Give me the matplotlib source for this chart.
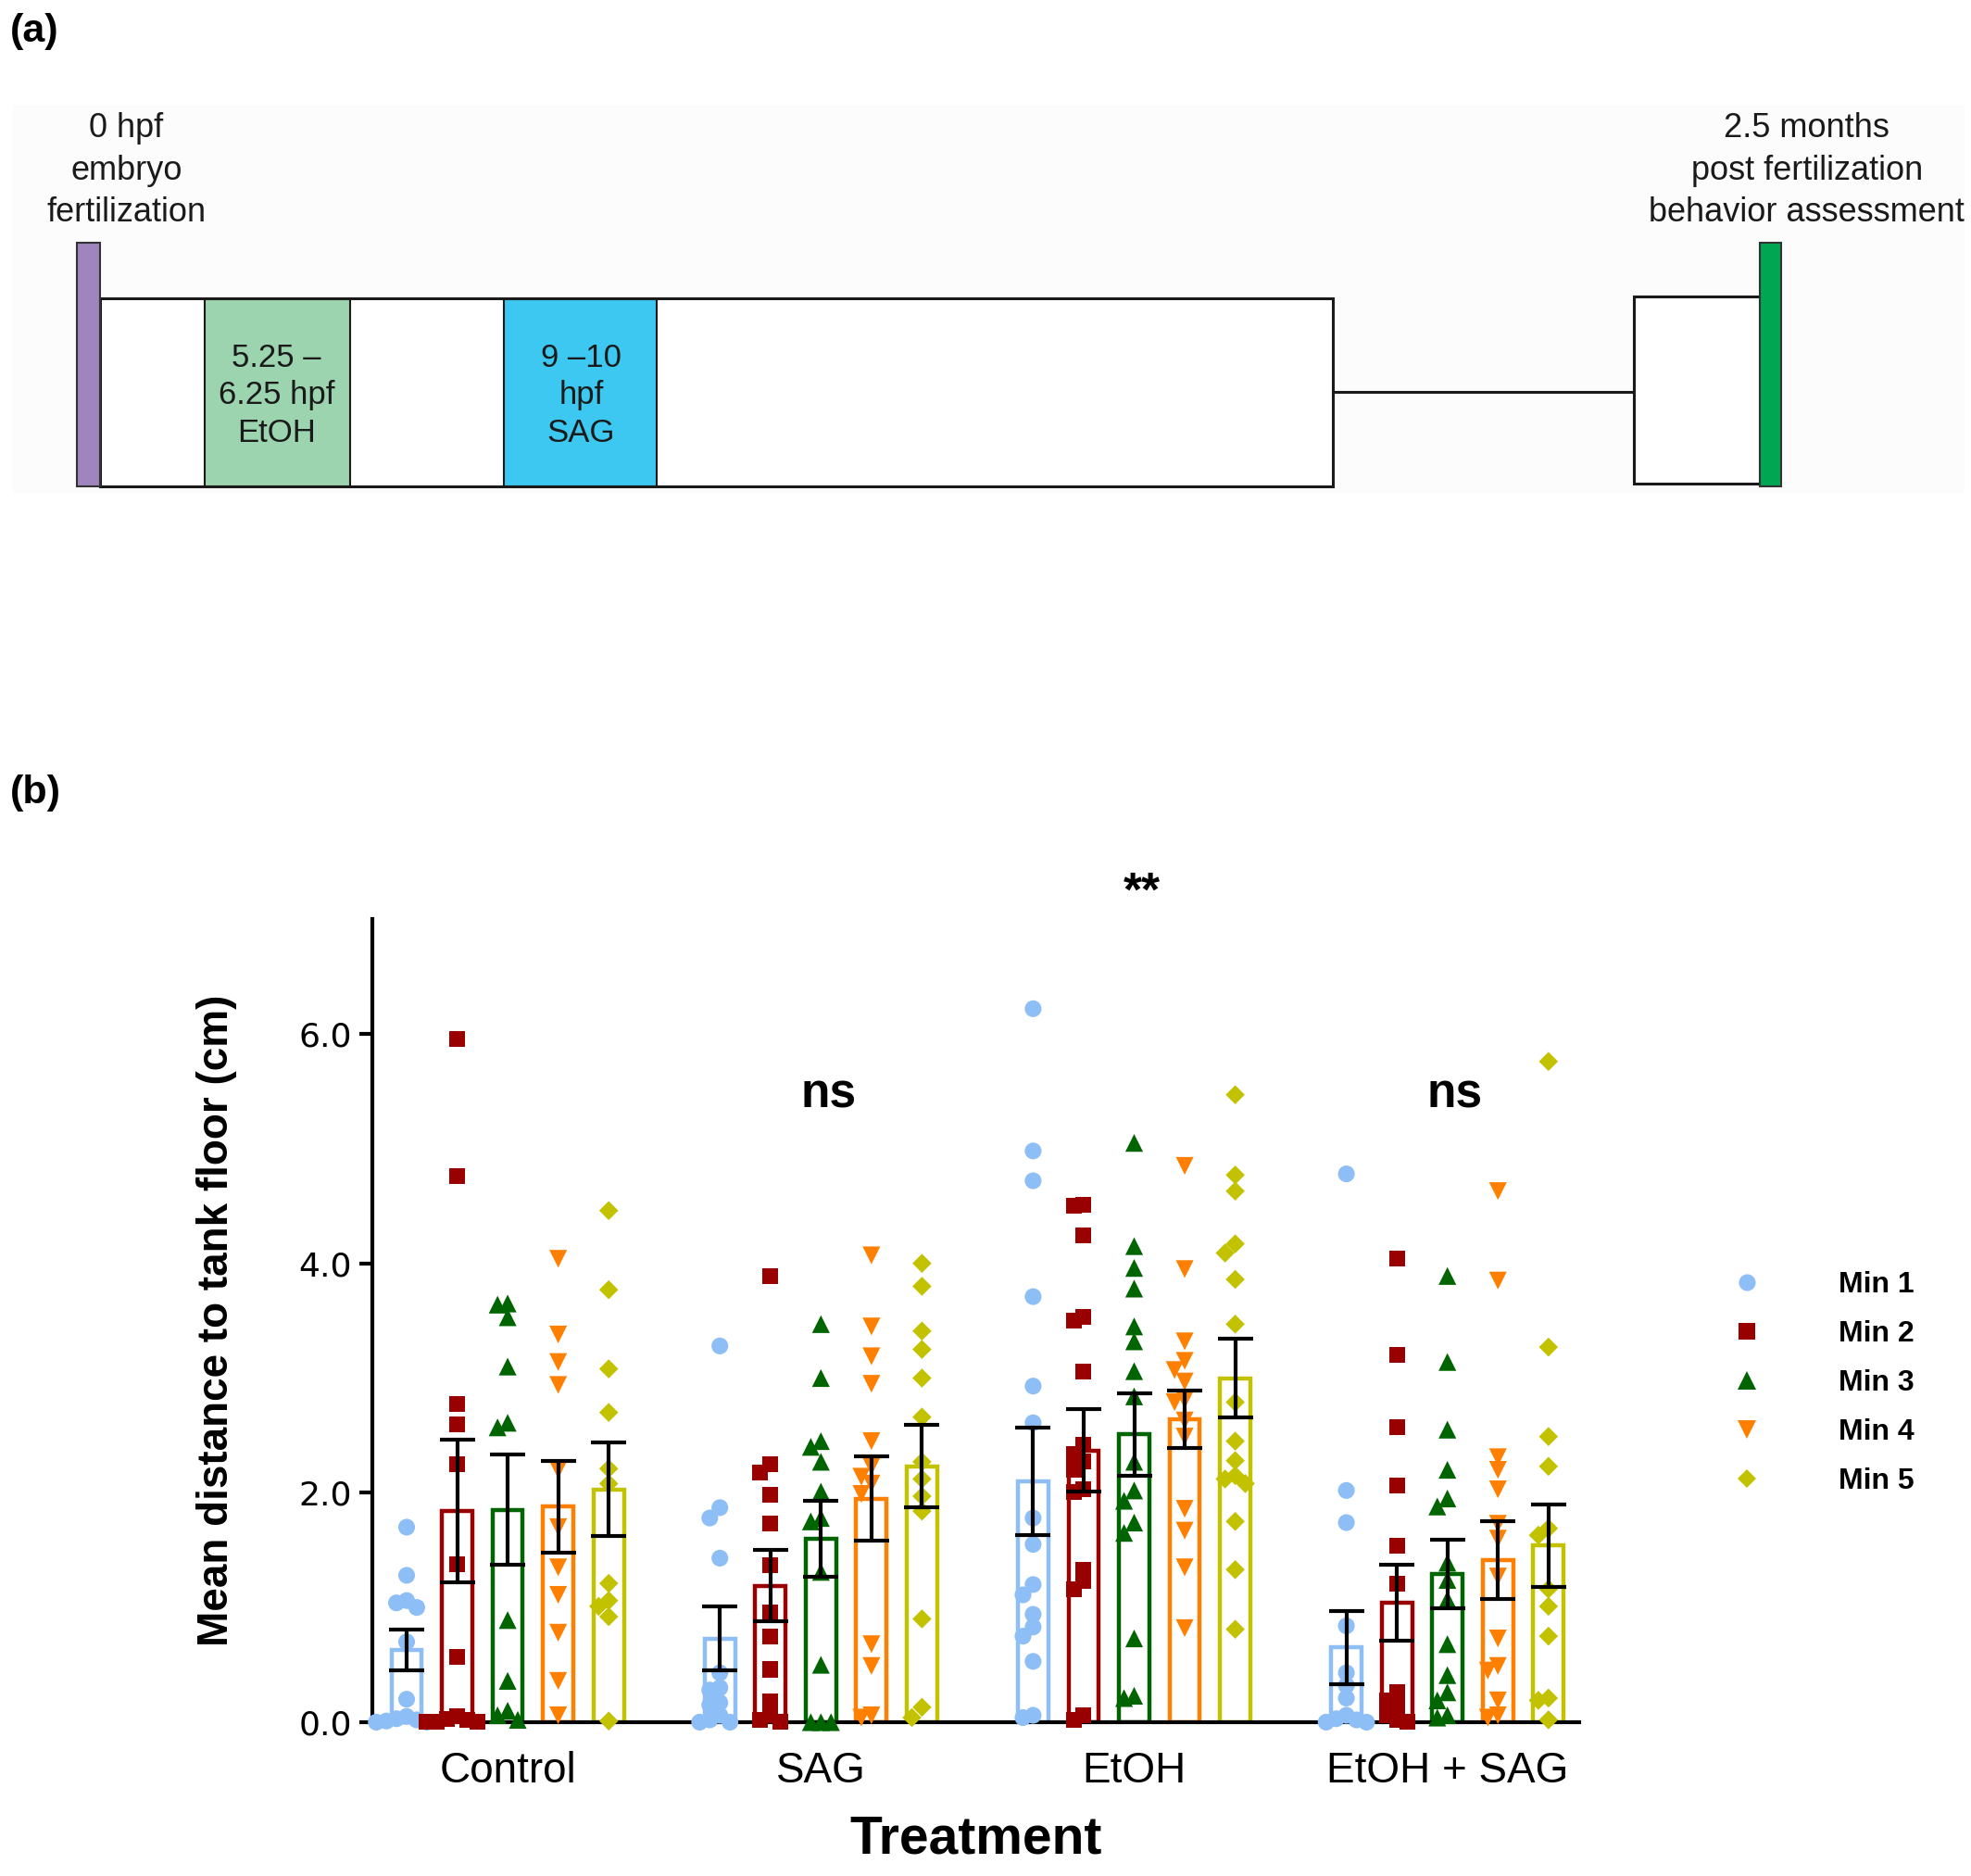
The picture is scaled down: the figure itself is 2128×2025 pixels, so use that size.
import numpy as np
import matplotlib as mpl
mpl.use('Agg')
import matplotlib.pyplot as plt
from matplotlib.patches import Rectangle
from matplotlib.lines import Line2D

# ---- panel (b) data ----
groups = ["Control", "SAG", "EtOH", "EtOH + SAG"]
minutes = ["Min 1", "Min 2", "Min 3", "Min 4", "Min 5"]

ctrl_means = [0.63, 1.84, 1.85, 1.88, 2.03]
ctrl_sem = [0.18, 0.62, 0.48, 0.40, 0.41]
sag_means = [0.73, 1.19, 1.60, 1.95, 2.23]
sag_sem = [0.28, 0.31, 0.33, 0.37, 0.36]
etoh_means = [2.10, 2.37, 2.51, 2.64, 3.00]
etoh_sem = [0.47, 0.36, 0.36, 0.25, 0.34]
combo_means = [0.65, 1.04, 1.29, 1.41, 1.54]
combo_sem = [0.32, 0.33, 0.30, 0.34, 0.36]

ctrl_pts = [
    [1.70, 1.28, 1.06, 1.04, 1.00, 0.70, 0.20, 0.05, 0.03, 0.02, 0.01, 0.0, 0.0],
    [5.96, 4.76, 2.77, 2.60, 2.25, 1.38, 0.57, 0.05, 0.03, 0.02, 0.0, 0.0, 0.0],
    [3.65, 3.64, 3.53, 3.10, 2.61, 2.57, 0.89, 0.36, 0.10, 0.06, 0.02],
    [4.04, 3.38, 3.14, 2.94, 2.20, 1.70, 1.35, 1.11, 0.78, 0.36, 0.06],
    [4.46, 3.77, 3.08, 2.70, 2.21, 2.08, 1.21, 1.06, 1.01, 0.92, 0.01],
]
sag_pts = [
    [3.28, 1.87, 1.78, 1.43, 0.43, 0.30, 0.28, 0.17, 0.15, 0.06, 0.02, 0.0, 0.0],
    [3.89, 2.25, 2.18, 1.98, 1.73, 1.37, 0.96, 0.75, 0.46, 0.18, 0.06, 0.02, 0.0],
    [3.47, 3.00, 2.45, 2.40, 2.27, 2.01, 1.78, 1.75, 1.31, 0.50, 0.0, 0.0, 0.0],
    [4.07, 3.45, 3.19, 2.95, 2.45, 2.23, 2.14, 2.08, 1.99, 0.68, 0.49, 0.06, 0.04],
    [4.00, 3.80, 3.41, 3.25, 3.00, 2.66, 2.27, 2.12, 1.97, 1.84, 0.90, 0.13, 0.04],
]
etoh_pts = [
    [6.22, 4.98, 4.72, 3.71, 2.93, 2.61, 1.78, 1.55, 1.20, 1.11, 0.94, 0.83, 0.75, 0.53, 0.06, 0.04],
    [4.51, 4.50, 4.24, 3.53, 3.50, 3.06, 2.42, 2.34, 2.27, 2.20, 2.03, 2.01, 1.33, 1.23, 1.16, 0.06, 0.02],
    [5.05, 4.15, 3.96, 3.78, 3.45, 3.32, 3.06, 2.84, 2.27, 2.02, 1.93, 1.74, 1.65, 0.73, 0.23, 0.21],
    [4.85, 3.95, 3.32, 3.15, 3.07, 2.97, 2.81, 2.79, 2.63, 2.49, 1.86, 1.67, 1.35, 0.82],
    [5.47, 4.77, 4.63, 4.17, 4.09, 3.86, 3.47, 2.79, 2.45, 2.28, 2.15, 2.12, 2.08, 1.75, 1.33, 0.81],
]
combo_pts = [
    [4.78, 2.02, 1.74, 0.84, 0.43, 0.32, 0.21, 0.06, 0.03, 0.02, 0.0, 0.0],
    [4.04, 3.20, 2.57, 2.06, 1.54, 1.21, 0.26, 0.19, 0.13, 0.06, 0.02, 0.0],
    [3.89, 3.14, 2.55, 2.20, 1.95, 1.88, 1.39, 1.24, 1.07, 0.68, 0.41, 0.26, 0.19, 0.06, 0.04],
    [4.63, 3.85, 2.31, 2.20, 2.03, 1.73, 1.60, 1.27, 0.73, 0.49, 0.45, 0.19, 0.06, 0.04],
    [5.76, 3.27, 2.49, 2.23, 1.69, 1.63, 1.16, 1.01, 0.75, 0.21, 0.19, 0.02],
]
signif = ["", "ns", "**", "ns"]

all_means = [ctrl_means, sag_means, etoh_means, combo_means]
all_sem = [ctrl_sem, sag_sem, etoh_sem, combo_sem]
all_pts = [ctrl_pts, sag_pts, etoh_pts, combo_pts]

colors = ["#8DBEF5", "#990000", "#006400", "#FF8000", "#C2C200"]
markers = ["o", "s", "^", "v", "D"]
msizes = [170, 150, 190, 190, 110]

GROUP_STEP = 6.2
BAR_W = 0.6


def spread(vals, tol=0.1, step=0.2):
    # simple column scatter: push apart points with nearly equal values
    slots = [0, -1, 1, -2, 2, -3, 3]
    placed = {s: [] for s in slots}
    offs = []
    for v in vals:
        for s in slots:
            if all(abs(v - p) > tol for p in placed[s]):
                placed[s].append(v)
                offs.append(s * step)
                break
        else:
            offs.append(0)
    return np.array(offs)


fig = plt.figure(figsize=(21.28, 20.25), dpi=100)
sans = ['Liberation Sans', 'DejaVu Sans']

# ---- panel (a): timeline diagram, coordinates in a 1560x450 frame ----
H = 450
axa = fig.add_axes([0, 1 - H / 1485, 1, H / 1485])
axa.set_xlim(0, 1560)
axa.set_ylim(H, 0)
axa.axis('off')

axa.add_patch(Rectangle((10, 83), 1545, 307, facecolor='#FCFCFC', edgecolor='none', zorder=0))
axa.add_patch(Rectangle((79, 236), 976, 149, facecolor='white', edgecolor='#1A1A1A', lw=2.2, zorder=1))
axa.add_patch(Rectangle((162, 237), 115, 148, facecolor='#9BD4AE', edgecolor='#1A1A1A', lw=1.5, zorder=2))
axa.add_patch(Rectangle((399, 237), 121, 148, facecolor='#3CC8F0', edgecolor='#1A1A1A', lw=1.5, zorder=2))
axa.plot([1055, 1293], [310, 310], color='#1A1A1A', lw=2.2, zorder=1)
axa.add_patch(Rectangle((1293, 235), 100, 148, facecolor='white', edgecolor='#1A1A1A', lw=2.2, zorder=1))
axa.add_patch(Rectangle((61, 192), 18, 193, facecolor='#9F84BD', edgecolor='#333333', lw=1.5, zorder=3))
axa.add_patch(Rectangle((1393, 192), 17, 193, facecolor='#00A651', edgecolor='#333333', lw=1.5, zorder=3))

axa.text(219, 313, "5.25 –\n6.25 hpf\nEtOH", ha='center', va='center', fontsize=25,
         family=sans, linespacing=1.3, color='#1A1A1A', zorder=4)
axa.text(460, 313, "9 –10\nhpf\nSAG", ha='center', va='center', fontsize=25,
         family=sans, linespacing=1.3, color='#1A1A1A', zorder=4)
axa.text(100, 135, "0 hpf\nembryo\nfertilization", ha='center', va='center', fontsize=26,
         family=sans, linespacing=1.38, color='#1A1A1A')
axa.text(1430, 135, "2.5 months\npost fertilization\nbehavior assessment", ha='center', va='center',
         fontsize=26, family=sans, linespacing=1.38, color='#1A1A1A')
axa.text(8, 25, "(a)", ha='left', va='center', fontsize=31, fontweight='bold', family=sans)
fig.text(8 / 1560, 1 - 628 / 1485, "(b)", ha='left', va='center', fontsize=31,
         fontweight='bold', family=sans)

# ---- panel (b): bars + scatter ----
ax = fig.add_axes([0.189, 0.082, 0.612, 0.428])
for gi in range(len(groups)):
    for mi in range(len(minutes)):
        x = gi * GROUP_STEP + mi
        ax.bar(x, all_means[gi][mi], width=BAR_W, facecolor='none', edgecolor=colors[mi],
               linewidth=3.2, zorder=2)
        pts = np.array(all_pts[gi][mi])
        ax.scatter(x + spread(pts), pts, s=msizes[mi], marker=markers[mi], color=colors[mi],
                   edgecolors='none', zorder=3, clip_on=False)
        ax.errorbar(x, all_means[gi][mi], yerr=all_sem[gi][mi], fmt='none', ecolor='black',
                    elinewidth=3, capsize=14, capthick=3, zorder=4)
    if signif[gi]:
        sy = 7.23 if signif[gi] == "**" else 5.47
        ax.text(gi * GROUP_STEP + 2 + 0.15, sy, signif[gi], ha='center', va='center',
                fontsize=37, fontweight='bold', family=sans, clip_on=False)

ax.set_xlim(-0.675, 3 * GROUP_STEP + 4 + 0.6)
ax.set_ylim(0, 7)
ax.set_yticks([0, 2, 4, 6])
ax.set_yticklabels(["0.0", "2.0", "4.0", "6.0"], fontsize=26, family='DejaVu Sans')
ax.set_xticks([gi * GROUP_STEP + 2 for gi in range(len(groups))])
ax.set_xticklabels(groups, fontsize=33, family=sans)
ax.tick_params(axis='x', length=0, pad=22)
ax.tick_params(axis='y', length=10, width=3, pad=6)
for side in ['top', 'right']:
    ax.spines[side].set_visible(False)
for side in ['left', 'bottom']:
    ax.spines[side].set_linewidth(3)
ax.set_ylabel("Mean distance to tank floor (cm)", fontsize=33, fontweight='bold',
              family=sans, labelpad=48)
ax.set_xlabel("Treatment", fontsize=41, fontweight='bold', family=sans, labelpad=18)

handles = [Line2D([], [], linestyle='none', marker=markers[i], color=colors[i],
                  markersize=np.sqrt(msizes[i]) * 1.0, markeredgewidth=0) for i in range(5)]
leg = fig.legend(handles, minutes, loc='center left', bbox_to_anchor=(1338 / 1560, 1 - 1095 / 1485),
                 frameon=False, handletextpad=2.1, labelspacing=0.72,
                 prop={'size': 23, 'weight': 'bold', 'family': sans})

fig.savefig("out.png", dpi=100, facecolor='white')
